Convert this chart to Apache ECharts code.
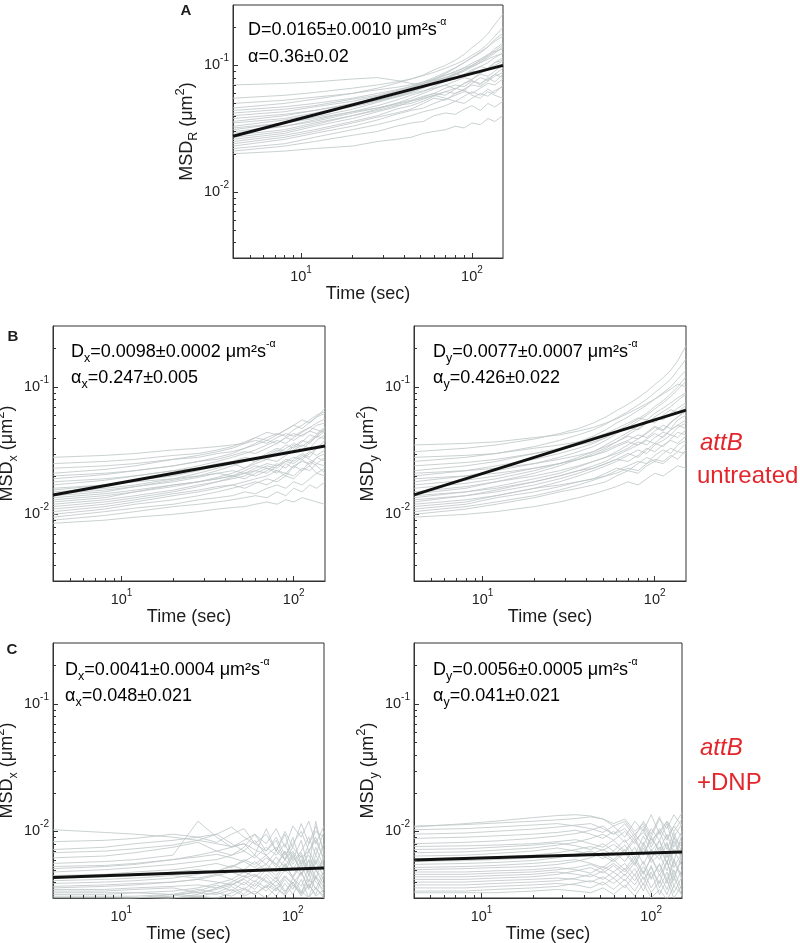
<!DOCTYPE html>
<html>
<head>
<meta charset="utf-8">
<script src="https://cdn.jsdelivr.net/npm/echarts@6/dist/echarts.min.js"></script>
<style>
html,body{margin:0;padding:0;background:#fff;}
#chart{width:800px;height:943px;}
</style>
</head>
<body>
<div id="chart"></div>
<script>
// ---------- DATA (MSD traces in units of 10^-3 µm²) ----------
const timeSec = [4, 8, 12, 20, 28, 36, 44, 52, 60, 70, 80, 90, 100, 112, 124, 136, 152];

const msdR_A = [
  [20, 21, 22, 23, 25, 26, 27, 29, 30, 31, 33, 32, 35, 34, 38, 36, 40],
  [21, 23, 25, 28, 30, 33, 35, 36, 40, 42, 41, 45, 48, 44, 50, 47, 52],
  [22, 24, 27, 31, 34, 37, 40, 43, 45, 48, 52, 50, 55, 60, 57, 63, 68],
  [23, 26, 29, 33, 37, 41, 44, 46, 50, 54, 58, 62, 60, 66, 72, 70, 78],
  [24, 27, 30, 35, 39, 42, 45, 50, 55, 53, 60, 65, 70, 68, 75, 82, 88],
  [25, 28, 31, 36, 40, 45, 48, 52, 57, 62, 66, 63, 72, 80, 76, 85, 95],
  [26, 29, 33, 38, 43, 47, 52, 56, 60, 58, 65, 72, 78, 85, 82, 90, 100],
  [27, 30, 34, 40, 45, 50, 55, 60, 65, 70, 75, 80, 77, 88, 95, 105, 110],
  [28, 31, 35, 40, 44, 48, 50, 54, 58, 55, 52, 57, 62, 58, 65, 60, 70],
  [29, 33, 37, 43, 48, 53, 58, 62, 68, 75, 80, 85, 92, 98, 105, 115, 125],
  [30, 33, 36, 42, 46, 50, 53, 57, 60, 66, 70, 68, 75, 72, 78, 85, 80],
  [31, 35, 39, 45, 51, 56, 61, 66, 72, 78, 85, 92, 100, 110, 120, 135, 150],
  [32, 35, 38, 43, 46, 49, 52, 55, 58, 62, 60, 64, 58, 55, 62, 58, 55],
  [33, 37, 41, 47, 52, 57, 62, 67, 72, 78, 84, 90, 97, 105, 115, 125, 140],
  [35, 38, 42, 48, 53, 58, 63, 68, 74, 80, 86, 82, 90, 98, 94, 105, 115],
  [36, 40, 44, 50, 55, 60, 66, 72, 78, 86, 95, 105, 115, 125, 140, 160, 180],
  [38, 41, 44, 49, 53, 56, 60, 63, 66, 70, 65, 72, 76, 70, 80, 74, 85],
  [40, 43, 47, 52, 57, 62, 67, 72, 77, 83, 90, 96, 104, 112, 122, 130, 145],
  [42, 45, 48, 54, 58, 63, 68, 74, 80, 88, 96, 105, 115, 128, 140, 155, 170],
  [44, 47, 50, 55, 60, 64, 68, 72, 76, 80, 78, 85, 90, 86, 95, 100, 108],
  [46, 50, 54, 60, 66, 72, 78, 84, 92, 100, 110, 122, 138, 155, 178, 210, 255],
  [50, 53, 56, 60, 64, 67, 70, 74, 78, 84, 88, 95, 100, 108, 118, 128, 135],
  [55, 58, 61, 66, 70, 74, 78, 83, 88, 95, 102, 110, 120, 132, 148, 170, 200],
  [70, 72, 74, 78, 80, 76, 72, 70, 75, 80, 86, 92, 98, 105, 112, 118, 125]
];

const msdX_B = [
  [8.5, 9, 9.5, 10, 10.5, 11, 11.3, 11.5, 12, 12.5, 12, 13, 12.5, 13.5, 13, 12.5, 12],
  [9, 9.8, 10.5, 11.5, 12, 12.5, 13, 13.5, 14, 13.5, 15, 14, 16, 15, 17, 16, 18],
  [9.5, 10.5, 11.2, 12, 13, 13.5, 14, 15, 14.5, 16, 17, 16, 18, 17, 19, 21, 20],
  [10, 11, 12, 13, 14, 15, 16, 17, 18, 17, 19, 21, 20, 23, 22, 25, 24],
  [10.5, 11.5, 12.5, 14, 15, 16, 17, 18, 19, 20, 22, 21, 24, 26, 25, 28, 30],
  [11, 12, 13, 14.5, 15.5, 16.5, 17, 16, 17.5, 19, 18, 20, 19, 22, 24, 21, 23],
  [11.5, 12.5, 13.5, 15, 16.5, 18, 19, 20, 22, 24, 23, 26, 28, 27, 30, 33, 35],
  [12, 13, 14, 15.5, 17, 18, 19.5, 21, 22, 21, 24, 26, 25, 28, 31, 29, 32],
  [12.5, 13.5, 15, 17, 18, 19, 20, 21, 20, 22, 25, 23, 27, 30, 28, 33, 38],
  [13, 14, 15, 16.5, 18, 19.5, 21, 23, 25, 27, 26, 29, 32, 35, 33, 38, 42],
  [13.5, 14.5, 15.5, 17, 18, 19, 20, 19, 21, 23, 22, 20, 24, 22, 26, 24, 21],
  [14, 15, 16.5, 18.5, 20, 22, 24, 26, 28, 27, 30, 33, 36, 34, 38, 42, 46],
  [14.5, 15.5, 16.5, 18, 19.5, 21, 22, 21, 23, 25, 24, 27, 26, 29, 27, 25, 28],
  [15, 16, 17, 19, 21, 23, 25, 27, 26, 29, 32, 30, 34, 38, 36, 41, 48],
  [15.5, 17, 18.5, 20, 22, 24, 25, 23, 26, 28, 31, 35, 33, 37, 42, 40, 45],
  [16, 17, 18, 19, 20, 21, 20, 22, 24, 23, 21, 25, 23, 27, 24, 28, 26],
  [17, 18.5, 20, 22, 24, 26, 28, 30, 32, 35, 38, 36, 40, 44, 48, 52, 56],
  [18, 19, 20, 22, 23, 25, 26, 28, 27, 30, 33, 31, 35, 32, 37, 41, 39],
  [19, 20.5, 22, 24, 26, 28, 30, 33, 36, 40, 43, 41, 46, 50, 55, 60, 64],
  [20, 21, 22, 24, 26, 27, 29, 31, 30, 33, 36, 40, 38, 42, 45, 43, 48],
  [21, 22.5, 24, 27, 29, 31, 33, 36, 40, 38, 42, 46, 50, 47, 53, 58, 68],
  [23, 24, 25, 27, 28, 30, 31, 33, 35, 38, 36, 40, 43, 41, 45, 50, 52],
  [25, 26, 27, 29, 30, 32, 34, 37, 40, 44, 42, 46, 50, 55, 52, 58, 62],
  [28, 29, 30, 32, 33, 34, 35, 36, 38, 36, 40, 43, 41, 45, 48, 46, 44]
];

const msdY_B = [
  [9.5, 10, 10.5, 11.5, 12.5, 13.5, 14.5, 15.5, 16.5, 18, 17, 19, 21, 20, 22, 24, 23],
  [10, 11, 12, 13.5, 15, 16, 17, 18, 20, 22, 21, 24, 26, 25, 28, 31, 30],
  [10.5, 11.5, 12.5, 14, 15.5, 17, 18.5, 20, 22, 24, 26, 25, 29, 32, 30, 35, 38],
  [11, 12, 13.5, 15, 16.5, 18, 19, 20, 21, 23, 22, 25, 27, 26, 29, 27, 32],
  [11.5, 12.5, 14, 16, 18, 20, 22, 24, 26, 29, 32, 30, 35, 38, 42, 40, 46],
  [12, 13, 14, 16, 17, 18, 19, 21, 23, 22, 25, 28, 26, 30, 33, 31, 36],
  [12.5, 14, 15.5, 18, 20, 22, 24, 26, 29, 32, 35, 38, 36, 41, 46, 50, 55],
  [13, 14, 15, 17, 19, 21, 23, 25, 27, 30, 28, 32, 36, 34, 39, 44, 42],
  [13.5, 15, 16.5, 19, 21, 23.5, 26, 28, 31, 35, 39, 43, 48, 45, 52, 58, 65],
  [14, 15, 16, 18, 20, 22, 23, 25, 27, 26, 29, 33, 31, 35, 38, 36, 41],
  [14.5, 16, 18, 21, 24, 27, 30, 33, 37, 42, 47, 52, 58, 64, 70, 78, 88],
  [15, 16.5, 18, 20, 22, 24, 26, 28, 30, 33, 37, 35, 40, 44, 42, 48, 52],
  [16, 17.5, 19, 22, 25, 28, 31, 35, 39, 44, 49, 55, 52, 60, 66, 63, 72],
  [17, 18.5, 20, 23, 25, 27, 29, 31, 34, 37, 35, 39, 43, 40, 46, 50, 47],
  [18, 20, 22, 25, 28, 31, 34, 38, 43, 48, 54, 60, 67, 75, 84, 95, 110],
  [19, 20, 21, 23, 25, 27, 29, 32, 35, 38, 42, 40, 45, 50, 47, 55, 60],
  [20, 22, 24, 27, 30, 33, 36, 40, 45, 50, 56, 62, 70, 78, 88, 100, 120],
  [21, 22, 23, 25, 27, 29, 31, 34, 37, 41, 39, 44, 49, 46, 53, 58, 64],
  [22, 24, 26, 30, 33, 37, 41, 46, 52, 58, 65, 72, 80, 90, 100, 115, 135],
  [24, 25.5, 27, 30, 32, 35, 37, 40, 44, 48, 46, 52, 57, 55, 62, 68, 75],
  [26, 28, 30, 34, 38, 42, 46, 51, 57, 64, 72, 80, 90, 102, 115, 135, 165],
  [28, 29, 30, 33, 35, 37, 40, 43, 47, 52, 57, 55, 62, 68, 75, 82, 90],
  [31, 33, 35, 39, 43, 47, 52, 58, 65, 73, 82, 92, 104, 118, 135, 160, 210],
  [35, 36, 37, 40, 42, 45, 48, 52, 56, 62, 68, 74, 80, 88, 96, 105, 100]
];

const msdX_C = [
  [10.3, 9.8, 9.5, 9, 8.5, 8, 7.6, 8, 7.2, 6.5, 7.5, 6, 7, 5.5, 6.5, 5, 6],
  [8.3, 8.5, 8.8, 9.5, 9, 8.2, 9.5, 10.5, 8, 7, 9, 6.5, 8, 10, 7, 9, 6],
  [7.2, 7.5, 8, 8.5, 9, 9.5, 8, 7, 8.5, 6.5, 5.5, 7, 5, 6.5, 4.5, 6, 5],
  [6.2, 6.4, 6.8, 7.5, 8.2, 7, 6.5, 7.5, 9.5, 7, 8.5, 6, 9, 5.5, 8, 11, 7],
  [5.6, 5.8, 6, 6.5, 12, 9, 7.5, 8, 6.5, 10.5, 7, 9.5, 6, 8.5, 5, 12, 6.5],
  [5.1, 5.3, 5.5, 6, 6.3, 6.6, 6.2, 5.8, 6.5, 5.5, 7, 6, 7.5, 6.2, 7, 8.5, 6],
  [4.8, 5, 5.2, 5.5, 5.8, 6, 6.5, 7, 6.2, 7.5, 6.5, 8, 5.8, 7, 9, 6.5, 10],
  [4.5, 4.6, 4.8, 5, 5.3, 5.6, 5.2, 6, 5.5, 6.5, 5.2, 7, 5.5, 6.8, 4.8, 7.5, 5.2],
  [4.3, 4.4, 4.5, 4.8, 5, 4.8, 5.4, 5, 5.8, 4.9, 6.3, 5.2, 6.8, 4.6, 5.9, 4.2, 6.5],
  [4.1, 4.2, 4.3, 4.5, 4.3, 4.6, 4.2, 4.8, 4.4, 5.2, 4.5, 5.6, 4.3, 5.5, 4, 5.8, 4.4],
  [3.9, 4, 4.1, 4.3, 4.6, 4.9, 5.3, 5.8, 5.2, 6.2, 5.5, 4.8, 6.5, 5, 7, 5.5, 8],
  [3.7, 3.8, 3.9, 4, 4.2, 4, 3.8, 4.3, 4.6, 4.1, 3.7, 4.5, 3.9, 4.8, 3.5, 5, 3.8],
  [3.6, 3.7, 3.8, 4, 4.2, 4.5, 4.8, 4.4, 5, 5.5, 4.8, 6, 5.2, 4.5, 6, 5, 4.2],
  [3.5, 3.5, 3.6, 3.7, 3.8, 3.6, 3.9, 3.5, 4.1, 3.6, 4.4, 3.4, 4, 3.3, 4.6, 3.5, 4.9],
  [3.4, 3.4, 3.5, 3.6, 3.3, 3.5, 3.8, 4.2, 3.7, 4.6, 4, 5, 4.3, 3.7, 5.2, 4, 3.5],
  [3.3, 3.3, 3.3, 3.2, 3.1, 3, 3.3, 3.6, 3.2, 3.8, 3.4, 4.2, 3.5, 4.8, 3.6, 4.4, 3.2],
  [3.2, 3.2, 3.3, 3.4, 3.6, 3.9, 4.2, 3.8, 4.5, 4, 3.5, 4.4, 3.8, 3.3, 4.2, 3.6, 3],
  [3.1, 3.1, 3.1, 3.2, 3.3, 3.2, 3.5, 3.1, 3.4, 3, 3.6, 3.1, 3.8, 3.2, 3.9, 3.1, 3.5],
  [3, 3, 3, 3.1, 3.4, 3.8, 3.4, 4, 3.5, 4.4, 3.6, 3.2, 4.3, 3.4, 3, 4.5, 3.6],
  [2.9, 2.9, 3, 3.2, 3.5, 3.3, 3.7, 3.2, 3.9, 3.4, 4.1, 3.3, 4, 3.1, 3.8, 3.2, 4.6],
  [2.8, 2.8, 2.9, 3, 3.1, 3.3, 3.1, 3.5, 3.2, 3.7, 3.1, 3.9, 3.2, 4.2, 3, 3.6, 3.1],
  [2.7, 2.7, 2.8, 3, 3.2, 3.6, 4, 4.5, 4, 5, 4.2, 5.5, 4.4, 6, 4.6, 6.5, 5],
  [6.8, 7, 7.3, 7.8, 8.5, 9.5, 10.8, 9, 8, 9.5, 7, 10, 7.5, 11.5, 8, 10, 9],
  [5.3, 5.4, 5.6, 6, 6.5, 7, 7.5, 8.5, 9.5, 8, 10.5, 7.5, 11, 9, 12, 8, 11]
];

const msdY_C = [
  [11, 11.3, 11.6, 12, 12.3, 12.6, 13, 12.5, 11.5, 12.5, 10, 11.5, 9, 12.5, 10.5, 13.5, 11],
  [10.3, 10.5, 10.8, 11.2, 11.5, 11, 10.5, 9.8, 11, 9, 12, 10, 13.5, 9.5, 12, 10, 12.5],
  [9.5, 9.7, 10, 10.4, 10.8, 11.2, 11.5, 10.5, 9.5, 10.5, 8.5, 9.8, 8, 10.5, 8.5, 11, 9],
  [8.8, 9, 9.2, 9.5, 9.8, 10.2, 9.5, 8.8, 10, 8.2, 9.5, 7.8, 10.5, 8.5, 11.5, 7.5, 10],
  [8, 8.2, 8.4, 8.8, 9.2, 9.6, 10.2, 11, 9.5, 11.5, 9, 12, 9.5, 13, 8.8, 11, 14],
  [7.6, 7.7, 7.8, 8, 8.3, 8.6, 8, 7.5, 8.5, 7, 9, 6.5, 8.8, 7.2, 9.5, 6.8, 8.5],
  [7.2, 7.3, 7.5, 7.8, 8.1, 7.7, 7.2, 8, 7, 8.6, 6.5, 9.2, 7, 8.5, 6.2, 9, 7.5],
  [6.8, 6.9, 7.1, 7.4, 7.8, 8.2, 8.8, 9.5, 8.5, 10, 8, 10.5, 7.5, 10, 7.2, 9.8, 6.8],
  [6.4, 6.5, 6.7, 7, 7.4, 7, 6.6, 7.2, 6.5, 7.8, 6, 8.2, 6.2, 7.5, 5.6, 8.4, 6],
  [6.1, 6.2, 6.3, 6.5, 6.8, 7.2, 7.6, 7.1, 7.9, 6.8, 8.5, 6.5, 9, 6.9, 8.2, 5.8, 9.5],
  [5.8, 5.9, 6, 6.2, 6.5, 6.3, 6.8, 6.1, 7, 5.8, 7.5, 5.5, 7.2, 6, 8, 5.2, 6.8],
  [5.5, 5.6, 5.7, 5.9, 6.2, 6.6, 7, 6.4, 5.8, 6.8, 5.4, 7.4, 5.7, 6.6, 4.9, 7.2, 5.3],
  [5.2, 5.3, 5.4, 5.6, 5.8, 6, 5.6, 5.2, 6, 5, 6.4, 4.7, 6.2, 4.8, 6.8, 4.5, 6],
  [5, 5.1, 5.2, 5.3, 5.5, 5.8, 6.2, 6.8, 6, 7.2, 5.6, 7.8, 6, 8.5, 5.5, 9, 6.2],
  [4.8, 4.8, 4.9, 5, 5.2, 5, 4.7, 5.3, 4.8, 5.6, 4.5, 5.8, 4.3, 5.5, 4.2, 6, 4.4],
  [4.6, 4.6, 4.7, 4.8, 5, 5.2, 5.5, 5, 5.6, 4.8, 6, 4.6, 6.2, 4.5, 5.8, 4.1, 6.6],
  [4.4, 4.4, 4.5, 4.6, 4.8, 4.6, 4.4, 4.9, 4.3, 5.1, 4.1, 5.3, 4.2, 5.6, 3.9, 5.8, 4.2],
  [4.2, 4.2, 4.3, 4.4, 4.6, 4.9, 5.2, 4.7, 5.4, 4.5, 5.7, 4.2, 5.2, 3.9, 5.9, 3.7, 5],
  [4, 4, 4.1, 4.2, 4.3, 4.2, 4, 4.4, 3.9, 4.6, 3.8, 4.9, 3.6, 4.6, 3.5, 5, 3.4],
  [3.8, 3.8, 3.9, 4, 4.1, 4.3, 4.6, 4.2, 4.8, 4.1, 5.1, 3.8, 5.4, 3.6, 4.8, 3.3, 4.4],
  [3.6, 3.6, 3.7, 3.8, 3.9, 3.8, 3.6, 4, 3.5, 4.2, 3.4, 4.4, 3.3, 4.1, 3.2, 4.5, 3.1],
  [3.4, 3.4, 3.5, 3.6, 3.7, 3.9, 4.1, 3.8, 4.3, 3.6, 4.6, 3.4, 4.8, 3.2, 4.2, 3, 3.8],
  [3.3, 3.3, 3.3, 3.4, 3.5, 3.4, 3.3, 3.6, 3.2, 3.8, 3.1, 3.9, 3, 3.5, 2.9, 3.7, 3.2],
  [10.8, 11.5, 12, 12.8, 13.3, 13.5, 13.2, 12.5, 11, 12, 9.5, 11, 8.5, 10, 12, 9, 11.5]
];

// Power-law fits (end points, µm²)
const fitTime = [4, 152];
const fitA  = [0.0275, 0.100];
const fitBx = [0.0142, 0.0343];
const fitBy = [0.0142, 0.0656];
const fitCx = [0.00435, 0.00515];
const fitCy = [0.00597, 0.00687];

// Axis ranges / ticks
const xRange = [4, 152];
const yRange = [0.003, 0.3];
const xMinorTicks = [5, 6, 7, 8, 9, 20, 30, 40, 50, 60, 70, 80, 90];
const yMinorTicks = [0.004, 0.005, 0.006, 0.007, 0.008, 0.009, 0.02, 0.03, 0.04, 0.05, 0.06, 0.07, 0.08, 0.09, 0.2];

// Text
const annTexts = [
  ['{n|D=0.0165±0.0010 μm²s}{sup|-α}', '{n|α=0.36±0.02}'],
  ['{n|D}{sub|x}{n|=0.0098±0.0002 μm²s}{sup|-α}', '{n|α}{sub|x}{n|=0.247±0.005}'],
  ['{n|D}{sub|y}{n|=0.0077±0.0007 μm²s}{sup|-α}', '{n|α}{sub|y}{n|=0.426±0.022}'],
  ['{n|D}{sub|x}{n|=0.0041±0.0004 μm²s}{sup|-α}', '{n|α}{sub|x}{n|=0.048±0.021}'],
  ['{n|D}{sub|y}{n|=0.0056±0.0005 μm²s}{sup|-α}', '{n|α}{sub|y}{n|=0.041±0.021}']
];
const yNames = [
  '{n|MSD}{sub|R}{n| (μm}{sup|2}{n|)}',
  '{n|MSD}{sub|x}{n| (μm}{sup|2}{n|)}',
  '{n|MSD}{sub|y}{n| (μm}{sup|2}{n|)}',
  '{n|MSD}{sub|x}{n| (μm}{sup|2}{n|)}',
  '{n|MSD}{sub|y}{n| (μm}{sup|2}{n|)}'
];
const xName = 'Time (sec)';

// ---------- LAYOUT ----------
const FONT = 'Liberation Sans, Arial, Helvetica, sans-serif';
const TXT = '#1c1c1c';
const panels = [
  {grid: {left: 233, top: 5, width: 270, height: 253}, traces: msdR_A, fit: fitA, ann: [[248, 30], [248, 57]]},
  {grid: {left: 53, top: 326, width: 272, height: 255}, traces: msdX_B, fit: fitBx, ann: [[71, 352], [71, 378]]},
  {grid: {left: 414, top: 326, width: 272, height: 255}, traces: msdY_B, fit: fitBy, ann: [[433, 352], [433, 378]]},
  {grid: {left: 53, top: 643, width: 271, height: 255}, traces: msdX_C, fit: fitCx, ann: [[65, 670], [65, 696]]},
  {grid: {left: 414, top: 643, width: 268, height: 255}, traces: msdY_C, fit: fitCy, ann: [[433, 670], [433, 696]]}
];

function powLabel(v) {
  const e = Math.log10(v);
  const r = Math.round(e);
  if (Math.abs(e - r) > 1e-6) return '';
  return '{b|10}{s|' + (r < 0 ? '-' : '') + Math.abs(r) + '}';
}
const tickRich = {
  b: {fontSize: 14.5, lineHeight: 24, color: '#222', fontFamily: FONT},
  s: {fontSize: 10, lineHeight: 11, verticalAlign: 'top', color: '#222', fontFamily: FONT}
};
const annRich = {
  n: {fontSize: 18, lineHeight: 26, color: TXT, fontFamily: FONT},
  sub: {fontSize: 12.5, lineHeight: 16, verticalAlign: 'bottom', color: TXT, fontFamily: FONT},
  sup: {fontSize: 10.5, lineHeight: 12, verticalAlign: 'top', color: TXT, fontFamily: FONT}
};
const nameRich = {
  n: {fontSize: 18, lineHeight: 26, color: TXT, fontFamily: FONT},
  sub: {fontSize: 12.5, lineHeight: 16, verticalAlign: 'bottom', color: TXT, fontFamily: FONT},
  sup: {fontSize: 13, lineHeight: 14, verticalAlign: 'top', color: TXT, fontFamily: FONT}
};

const grids = [], xAxes = [], yAxes = [], series = [], graphics = [];

panels.forEach((p, i) => {
  grids.push(Object.assign({show: true, borderColor: '#333', borderWidth: 1, backgroundColor: 'transparent', containLabel: false, outerBoundsMode: 'none'}, p.grid));
  xAxes.push({
    type: 'log', logBase: 10, gridIndex: i, min: xRange[0], max: xRange[1],
    axisLine: {show: true, lineStyle: {color: '#333', width: 1}},
    axisTick: {show: true, inside: true, length: 5, lineStyle: {color: '#333', width: 1}},
    axisLabel: {formatter: powLabel, rich: tickRich, margin: 7, showMinLabel: false, showMaxLabel: false},
    splitLine: {show: false},
    name: xName, nameLocation: 'middle', nameGap: 25,
    nameTextStyle: {fontSize: 18, color: TXT, fontFamily: FONT}
  });
  yAxes.push({
    type: 'log', logBase: 10, gridIndex: i, min: yRange[0], max: yRange[1],
    axisLine: {show: true, lineStyle: {color: '#333', width: 1}},
    axisTick: {show: true, inside: true, length: 5, lineStyle: {color: '#333', width: 1}},
    axisLabel: {formatter: powLabel, rich: tickRich, margin: 4, showMinLabel: false, showMaxLabel: false},
    splitLine: {show: false},
    name: yNames[i], nameLocation: 'middle', nameGap: 28,
    nameTextStyle: {rich: nameRich, fontSize: 18, color: TXT, fontFamily: FONT}
  });
  p.traces.forEach(tr => {
    series.push({
      type: 'line', xAxisIndex: i, yAxisIndex: i, symbol: 'none', silent: true, z: 2,
      lineStyle: {color: '#bcc5c5', width: 0.8},
      data: timeSec.map((t, j) => [t, tr[j] * 1e-3])
    });
  });
  series.push({
    type: 'line', xAxisIndex: i, yAxisIndex: i, symbol: 'none', silent: true, z: 5,
    lineStyle: {color: '#111', width: 3},
    data: fitTime.map((t, j) => [t, p.fit[j]])
  });
  // minor ticks (log 2..9 per decade) drawn through the axes
  series.push({
    type: 'custom', xAxisIndex: i, yAxisIndex: i, silent: true, z: 10, clip: false,
    data: xMinorTicks.map(v => [v, yRange[0]]),
    renderItem: (params, api) => {
      const pt = api.coord([api.value(0), api.value(1)]);
      const x = Math.round(pt[0]) + 0.5;
      return {type: 'line', shape: {x1: x, y1: pt[1], x2: x, y2: pt[1] - 3}, style: {stroke: '#333', lineWidth: 1}};
    }
  });
  series.push({
    type: 'custom', xAxisIndex: i, yAxisIndex: i, silent: true, z: 10, clip: false,
    data: yMinorTicks.map(v => [xRange[0], v]),
    renderItem: (params, api) => {
      const pt = api.coord([api.value(0), api.value(1)]);
      const y = Math.round(pt[1]) + 0.5;
      return {type: 'line', shape: {x1: pt[0], y1: y, x2: pt[0] + 3, y2: y}, style: {stroke: '#333', lineWidth: 1}};
    }
  });
  p.ann.forEach((pos, k) => {
    graphics.push({type: 'text', x: pos[0], y: pos[1], silent: true, z: 20,
      style: {text: annTexts[i][k], rich: annRich, verticalAlign: 'middle', align: 'left', fontFamily: FONT}});
  });
});

// panel letters
[['A', 186, 11], ['B', 13, 337], ['C', 12, 650]].forEach(l => {
  graphics.push({type: 'text', x: l[1], y: l[2], silent: true,
    style: {text: l[0], fontSize: 15, fontWeight: 'bold', fill: TXT, fontFamily: FONT, align: 'center', verticalAlign: 'middle'}});
});
// condition labels
const RED = '#e2262c';
[['attB', 700, 443, 'italic'], ['untreated', 697, 476, 'normal'], ['attB', 700, 748, 'italic'], ['+DNP', 697, 783, 'normal']].forEach(l => {
  graphics.push({type: 'text', x: l[1], y: l[2], silent: true,
    style: {text: l[0], fontSize: 24, fontStyle: l[3], fill: RED, fontFamily: FONT, align: 'left', verticalAlign: 'middle'}});
});

const chart = echarts.init(document.getElementById('chart'), null, {renderer: 'canvas'});
chart.setOption({
  animation: false,
  backgroundColor: '#fff',
  grid: grids, xAxis: xAxes, yAxis: yAxes, series: series, graphic: graphics
});
</script>
</body>
</html>
